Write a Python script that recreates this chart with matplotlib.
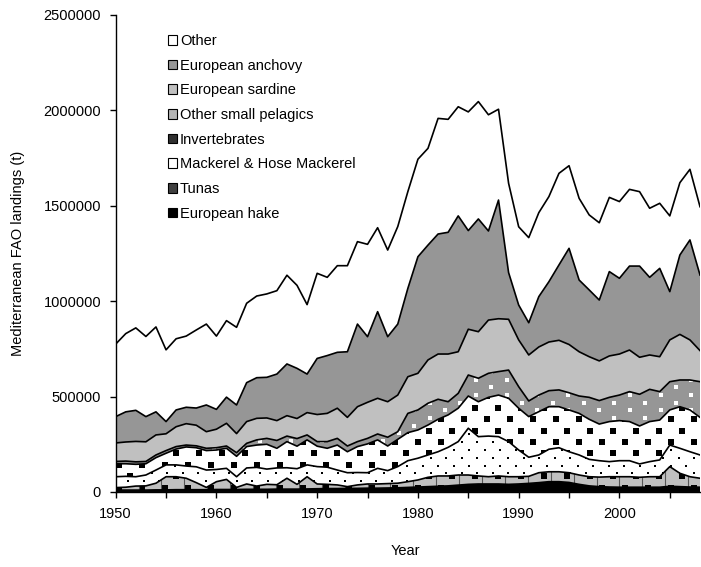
import numpy as np
import matplotlib
matplotlib.use('Agg')
import matplotlib.pyplot as plt
from matplotlib.patches import Patch
from matplotlib.ticker import MultipleLocator, FuncFormatter

plt.rcParams['font.family'] = ['Liberation Sans', 'DejaVu Sans']

# landings per group, thousand tonnes, 1950-2008
years = np.arange(1950, 2009)

hake = [10, 10, 10, 10, 11, 11, 12, 12, 12, 12, 13, 13, 13, 14, 14, 14, 15, 15, 15, 16, 17,
        18, 18, 19, 19, 20, 20, 21, 22, 24, 26, 28, 30, 32, 36, 40, 42, 42, 42, 40,
        42, 45, 49, 54, 54, 50, 40, 32, 28, 26, 25, 25, 25, 25, 25, 30, 28, 26, 25]
tunas = [13, 15, 21, 22, 35, 69, 68, 60, 37, 12, 41, 53, 11, 28, 17, 26, 23, 57, 25, 64, 25,
         22, 19, 9, 18, 22, 22, 23, 24, 30, 37, 49, 54, 52, 53, 49, 42, 38, 42, 40,
         38, 37, 52, 52, 52, 51, 49, 48, 50, 54, 55, 55, 52, 55, 55, 103, 70, 54, 47]
mackerel = [57, 57, 49, 57, 69, 62, 62, 64, 83, 91, 64, 58, 56, 84, 98, 80, 88, 55, 82, 62, 91,
            90, 78, 73, 65, 59, 82, 68, 87, 110, 114, 117, 127, 150, 175, 245, 206, 213, 206, 184,
            140, 100, 93, 118, 126, 110, 105, 91, 86, 79, 84, 84, 70, 79, 88, 113, 131, 131, 122]
invertebrates = [68, 66, 65, 59, 65, 61, 83, 100, 100, 102, 102, 105, 107, 112, 117, 130, 103, 137, 118, 131, 107,
                 99, 131, 110, 136, 151, 149, 129, 143, 147, 148, 157, 170, 170, 175, 169, 183, 203, 218, 227,
                 219, 213, 227, 223, 215, 219, 218, 210, 192, 210, 210, 205, 199, 210, 209, 184, 218, 219, 197]
small_pelagics = [12, 14, 13, 12, 14, 14, 13, 10, 10, 12, 12, 12, 19, 17, 27, 31, 41, 29, 40, 26, 24,
                  35, 35, 30, 26, 29, 31, 46, 40, 101, 105, 114, 105, 69, 78, 110, 123, 126, 123, 148,
                  113, 82, 87, 84, 88, 90, 91, 115, 123, 127, 134, 157, 166, 169, 149, 148, 140, 157, 187]
sardine = [97, 100, 107, 103, 105, 88, 104, 112, 108, 87, 97, 119, 100, 114, 113, 107, 104, 107, 105, 117, 142,
           148, 158, 150, 183, 189, 187, 186, 192, 192, 192, 227, 237, 250, 218, 240, 244, 279, 277, 266,
           245, 241, 252, 255, 260, 253, 232, 213, 208, 217, 215, 218, 194, 180, 183, 219, 239, 210, 163]
anchovy = [138, 158, 163, 132, 121, 64, 88, 86, 90, 140, 104, 137, 150, 204, 213, 213, 244, 271, 263, 202, 294,
           303, 293, 344, 433, 344, 454, 341, 372, 463, 611, 602, 629, 638, 712, 517, 591, 467, 622, 245,
           183, 169, 264, 316, 395, 504, 376, 350, 319, 442, 397, 440, 478, 407, 463, 253, 416, 524, 396]
other = [380, 410, 432, 420, 445, 376, 373, 373, 409, 424, 384, 401, 407, 416, 428, 437, 437, 465, 435, 364, 446,
         410, 454, 451, 432, 484, 440, 454, 511, 507, 511, 507, 606, 592, 572, 622, 615, 609, 476, 468,
         410, 446, 440, 446, 480, 433, 428, 393, 405, 389, 402, 402, 390, 362, 341, 397, 379, 370, 358]

names = ['European hake', 'Tunas', 'Mackerel & Hose Mackerel', 'Invertebrates',
         'Other small pelagics', 'European sardine', 'European anchovy', 'Other']
layers = [hake, tunas, mackerel, invertebrates, small_pelagics, sardine, anchovy, other]
colors = ['black', '#c0c0c0', 'white', 'white', '#969696', '#c0c0c0', '#969696', 'white']
legend_colors = ['black', '#404040', 'white', '#303030', '#b4b4b4', '#c0c0c0', '#969696', 'white']

fig = plt.figure(figsize=(7.01, 5.67), dpi=100)
ax = fig.add_axes([0.165, 0.1323, 0.8336, 0.8413])
ax.set_xlim(1950, 2008)
ax.set_ylim(0, 2500000)

vals = [np.array(l) * 1000 for l in layers]
polys = ax.stackplot(years, vals, colors=colors, linewidth=0)


def pattern(poly, dx, dy, x0, y0, **kw):
    # grid of markers in pixel space (odd rows shifted), clipped to the layer
    bb = ax.bbox
    pts = []
    for i, yy in enumerate(np.arange(bb.y0 + y0, bb.y1, dy)):
        for xx in np.arange(bb.x0 + x0 + (dx / 2 if i % 2 else 0), bb.x1, dx):
            pts.append((xx, yy))
    pts = ax.transData.inverted().transform(np.array(pts))
    sc = ax.scatter(pts[:, 0], pts[:, 1], linewidths=0, **kw)
    sc.set_clip_path(poly.get_paths()[0], ax.transData)


# tunas: vertical lines + black squares
bb = ax.bbox
px = np.arange(bb.x0, bb.x1, 22.9)
xs = ax.transData.inverted().transform(np.column_stack([px, np.full(len(px), bb.y0)]))[:, 0]
vl = ax.vlines(xs, 0, 2500000, colors='#555555', lw=0.8)
vl.set_clip_path(polys[1].get_paths()[0], ax.transData)
pattern(polys[1], 23, 11.4, 3.3, 4.3, marker='s', s=13, color='black')
# mackerel: small dots
pattern(polys[2], 15.5, 7.8, 5, 3, marker='s', s=1.3, color='black')
# invertebrates: black squares
pattern(polys[3], 23, 11.4, 3.3, 4.3, marker='s', s=13, color='black')
# other small pelagics: white squares
pattern(polys[4], 30.8, 7.7, 21.4, 4.6, marker='s', s=6, color='white')

tops = np.cumsum(vals, axis=0)
for t in tops:
    ax.plot(years, t, color='black', lw=1.2)

ax.set_xlim(1950, 2008)
ax.set_ylim(0, 2500000)

for s in ['top', 'right']:
    ax.spines[s].set_visible(False)
ax.spines['left'].set_linewidth(1)
ax.spines['bottom'].set_linewidth(1)

ax.xaxis.set_major_locator(MultipleLocator(10))
ax.xaxis.set_minor_locator(MultipleLocator(5))
ax.yaxis.set_major_locator(MultipleLocator(500000))
ax.yaxis.set_major_formatter(FuncFormatter(lambda v, p: '%d' % v))
ax.tick_params(which='both', direction='out', length=4.5, width=1, labelsize=10.5)
ax.tick_params(axis='y', pad=6)
ax.tick_params(axis='x', pad=6)

ax.set_ylabel('Mediterranean FAO landings (t)', fontsize=10.5)
ax.yaxis.set_label_coords(-0.155, 0.5)
ax.set_xlabel('Year', fontsize=10.5)
ax.xaxis.set_label_coords(0.495, -0.11)

handles = [Patch(facecolor=c, edgecolor='black', lw=0.8) for c in legend_colors]
ax.legend(handles[::-1], names[::-1], loc='upper left', bbox_to_anchor=(0.089, 0.96),
          frameon=False, fontsize=10.5, handlelength=0.65, handleheight=0.65,
          handletextpad=0.2, labelspacing=0.73, borderaxespad=0, borderpad=0)

fig.savefig('out.png', dpi=100)
